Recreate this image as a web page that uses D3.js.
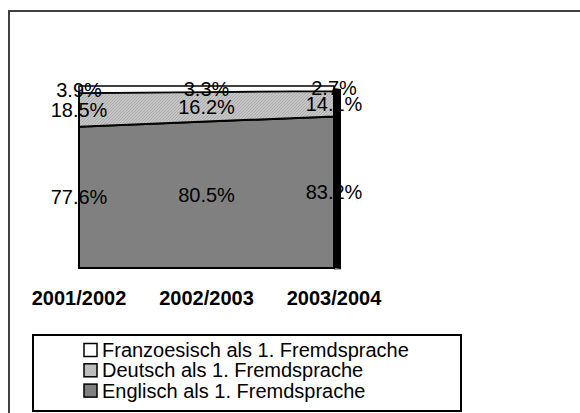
<!DOCTYPE html>
<html><head><meta charset="utf-8">
<script src="https://cdn.jsdelivr.net/npm/d3@7"></script>
<style>body{margin:0;background:#fff}svg{display:block}text{font-family:"Liberation Sans",Arial,sans-serif}</style>
</head><body>
<svg id="c" width="580" height="413"></svg>
<script>
const categories = ["2001/2002", "2002/2003", "2003/2004"];
const seriesNames = ["Englisch als 1. Fremdsprache", "Deutsch als 1. Fremdsprache", "Franzoesisch als 1. Fremdsprache"];
const englisch = [77.6, 80.5, 83.2];
const deutsch = [18.5, 16.2, 14.1];
const franz = [3.9, 3.3, 2.7];
const legendOrder = ["Franzoesisch als 1. Fremdsprache", "Deutsch als 1. Fremdsprache", "Englisch als 1. Fremdsprache"];

const rows = categories.map((c, i) => ({cat: c, [seriesNames[0]]: englisch[i], [seriesNames[1]]: deutsch[i], [seriesNames[2]]: franz[i]}));
const stack = d3.stack().keys(seriesNames)(rows);

const svg = d3.select("#c");
const defs = svg.append("defs");
const pat = defs.append("pattern").attr("id", "hatch").attr("patternUnits", "userSpaceOnUse")
  .attr("width", 3).attr("height", 3);
pat.append("rect").attr("width", 3).attr("height", 3).attr("fill", "#c6c6c6");
pat.append("path").attr("d", "M0,3 L3,0 M-1,1 L1,-1 M2,4 L4,2").attr("stroke", "#a4a4a4").attr("stroke-width", 0.8);

const fills = {"Englisch als 1. Fremdsprache": "#808080", "Deutsch als 1. Fremdsprache": "url(#hatch)", "Franzoesisch als 1. Fremdsprache": "#ffffff"};

// outer frame
svg.append("rect").attr("x", 9).attr("y", 11).attr("width", 600).attr("height", 420)
  .attr("fill", "none").attr("stroke", "#404040").attr("stroke-width", 2);

const x = d3.scalePoint().domain(categories).range([79, 334]);
const y = d3.scaleLinear().domain([0, 100]).range([268, 86]);

// floor shadow
svg.append("rect").attr("x", 334).attr("y", 268).attr("width", 7).attr("height", 2).attr("fill", "#b0b0b0");

// right side face
const lastX = x(categories[2]);
const sideTop = y(englisch[2] + deutsch[2]);
svg.append("path")
  .attr("d", `M${lastX},${sideTop - 3} L${lastX + 7},${sideTop - 2} L${lastX + 7},${y(0) + 1} L${lastX},${y(0)} Z`)
  .attr("fill", "#000");

const area = d3.area().x((d, i) => x(categories[i])).y0(d => y(d[0])).y1(d => y(d[1]));
svg.selectAll(".layer").data(stack).join("path")
  .attr("class", "layer")
  .attr("d", area)
  .attr("fill", d => fills[d.key])
  .attr("stroke", "#000")
  .attr("stroke-width", d => d.key === seriesNames[2] ? 1.5 : 2)
  .attr("stroke-linejoin", "miter");

// data labels
stack.forEach(layer => {
  layer.forEach((d, i) => {
    const v = d[1] - d[0];
    svg.append("text")
      .attr("x", x(categories[i]))
      .attr("y", (y(d[0]) + y(d[1])) / 2 + 7)
      .attr("text-anchor", "middle")
      .attr("font-size", 20)
      .attr("fill", "#000")
      .text(v.toFixed(1) + "%");
  });
});

// category labels
svg.selectAll(".cat").data(categories).join("text")
  .attr("class", "cat")
  .attr("x", d => x(d))
  .attr("y", 305)
  .attr("text-anchor", "middle")
  .attr("font-size", 20)
  .attr("font-weight", "bold")
  .text(d => d);

// legend
svg.append("rect").attr("x", 33).attr("y", 335).attr("width", 428).attr("height", 76)
  .attr("fill", "#fff").attr("stroke", "#000").attr("stroke-width", 2);
const lg = svg.selectAll(".lg").data(legendOrder).join("g").attr("class", "lg")
  .attr("transform", (d, i) => `translate(0,${357 + i * 20.3})`);
lg.append("rect").attr("x", 84).attr("y", -13.5).attr("width", 13).attr("height", 13)
  .attr("fill", d => fills[d]).attr("stroke", "#000").attr("stroke-width", 1.5);
lg.append("text").attr("x", 102).attr("y", 0).attr("font-size", 20).text(d => d);
</script>
</body></html>
